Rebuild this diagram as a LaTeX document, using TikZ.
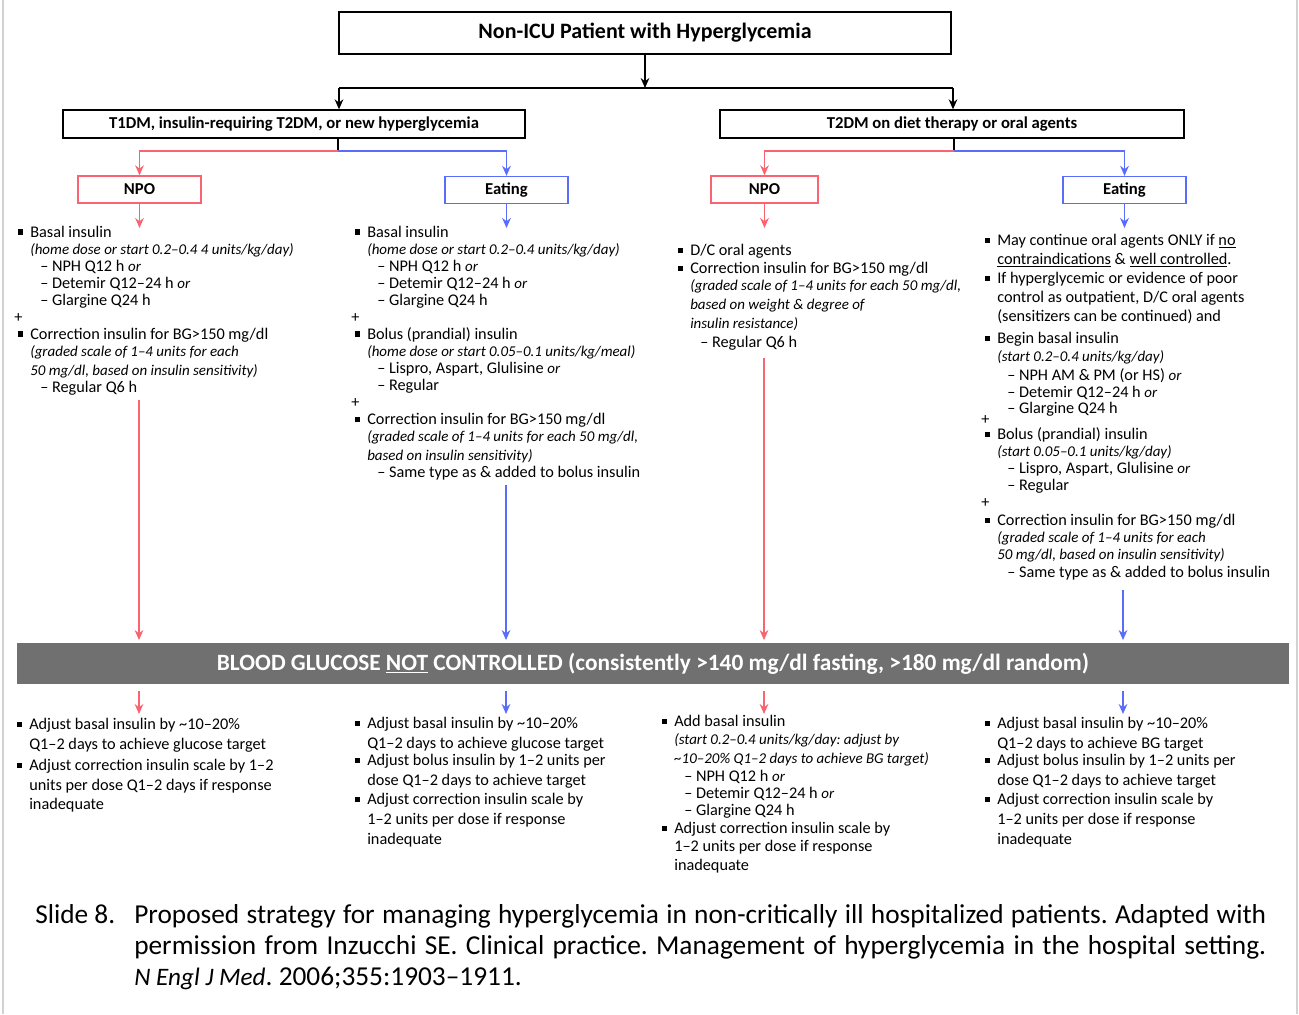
\documentclass[tikz,border=0pt]{standalone}
\usepackage{fontspec}
\setmainfont{Carlito}[ItalicFeatures={Scale=0.92}]
\usetikzlibrary{arrows.meta,positioning}
\frenchspacing

\definecolor{npored}{RGB}{250,100,112}
\definecolor{eatblue}{RGB}{90,108,250}
\definecolor{bargray}{RGB}{112,112,112}

% bullet, text indent and dash line
\newcommand{\bu}{\makebox[12pt][l]{\hspace{2.5pt}\rule[1.8pt]{4pt}{4pt}}}
\newcommand{\ti}{\hspace*{12pt}}
\newcommand{\dl}{\hspace*{19.5pt}--\ }

\begin{document}
\begin{tikzpicture}[x=0.75pt,y=-0.75pt,
	title/.style={rectangle,draw,line width=1pt,inner sep=0pt,minimum width=459pt,minimum height=31.5pt,font=\bfseries\fontsize{16.5}{18}\selectfont},
	cat/.style={rectangle,draw,line width=1pt,inner sep=0pt,minimum height=21pt,font=\bfseries\fontsize{12.5}{14}\selectfont},
	npo/.style={rectangle,draw=npored,line width=1pt,inner sep=0pt,minimum height=20.25pt,font=\bfseries\fontsize{12.5}{14}\selectfont},
	eat/.style={rectangle,draw=eatblue,line width=1pt,inner sep=0pt,minimum height=20.25pt,font=\bfseries\fontsize{12.5}{14}\selectfont},
	blk/.style={anchor=north west,align=left,inner sep=0pt,font=\fontsize{12.2}{12.75}\selectfont},
	blkb/.style={anchor=north west,align=left,inner sep=0pt,font=\fontsize{12.2}{14.8}\selectfont},
	bar/.style={rectangle,fill=bargray,text=white,inner sep=0pt,minimum width=954pt,minimum height=30.75pt,font=\bfseries\fontsize{17.5}{19}\selectfont},
	captxt/.style={anchor=base west,inner sep=0pt,font=\fontsize{20.5}{24}\selectfont},
	conn/.style={line width=1pt},
	paths/.style={->,line width=1pt,>={Stealth[length=7.5pt,width=6.5pt]}},
	redpath/.style={paths,draw=npored,line width=1.2pt},
	bluepath/.style={paths,draw=eatblue,line width=1.2pt}
	]
\useasboundingbox (0,0) rectangle (1299,1014);
\draw [gray!35,line width=1.2pt] (3,0) -- (3,1014);
\draw [gray!35,line width=1.2pt] (1297,0) -- (1297,1014);

\node [title] (title) at (645,33) {Non-ICU Patient with Hyperglycemia};
\node [cat,minimum width=346.5pt] (t1) at (294,124) {T1DM, insulin-requiring T2DM, or new hyperglycemia};
\node [cat,minimum width=348pt] (t2) at (952,124) {T2DM on diet therapy or oral agents};

\node [npo,minimum width=92.25pt] (npo1) at (139.5,189.5) {NPO};
\node [eat,minimum width=92.25pt] (eat1) at (506.5,190) {Eating};
\node [npo,minimum width=80.25pt] (npo2) at (764.5,189.5) {NPO};
\node [eat,minimum width=92.25pt] (eat2) at (1124.5,190) {Eating};

\node [blk] (blk1) at (14,225.5) {\bu Basal insulin\\
\ti\textit{(home dose or start 0.2--0.4 4 units/kg/day)}\\
\dl NPH Q12 h \textit{or}\\
\dl Detemir Q12--24 h \textit{or}\\
\dl Glargine Q24 h\\
+\\
\bu Correction insulin for BG>150 mg/dl\\
\ti\textit{(graded scale of 1--4 units for each}\\[1.5pt]
\ti\textit{50 mg/dl, based on insulin sensitivity)}\\
\dl Regular Q6 h};

\node [blk] (blk2) at (351,225.5) {\bu Basal insulin\\
\ti\textit{(home dose or start 0.2--0.4 units/kg/day)}\\
\dl NPH Q12 h \textit{or}\\
\dl Detemir Q12--24 h \textit{or}\\
\dl Glargine Q24 h\\
+\\
\bu Bolus (prandial) insulin\\
\ti\textit{(home dose or start 0.05--0.1 units/kg/meal)}\\
\dl Lispro, Aspart, Glulisine \textit{or}\\
\dl Regular\\
+\\[0.5pt]
\bu Correction insulin for BG>150 mg/dl\\
\ti\textit{(graded scale of 1--4 units for each 50 mg/dl,}\\[1pt]
\ti\textit{based on insulin sensitivity)}\\
\dl Same type as \& added to bolus insulin};

\node [blk] (blk3) at (674,244) {\bu D/C oral agents\\[0.75pt]
\bu Correction insulin for BG>150 mg/dl\\
\ti\textit{(graded scale of 1--4 units for each 50 mg/dl,}\\[1.5pt]
\ti\textit{based on weight \& degree of}\\[1.5pt]
\ti\textit{insulin resistance)}\\[1.5pt]
\dl Regular Q6 h};

\node [blk] (blk4) at (981,234) {\bu May continue oral agents ONLY if \underline{no}\\[1.5pt]
\ti\underline{contraindications} \& \underline{well controlled}.\\[1.5pt]
\bu If hyperglycemic or evidence of poor\\[1.5pt]
\ti control as outpatient, D/C oral agents\\[1.5pt]
\ti (sensitizers can be continued) and\\[3.5pt]
\bu Begin basal insulin\\[0.75pt]
\ti\textit{(start 0.2--0.4 units/kg/day)}\\[1.5pt]
\dl NPH AM \& PM (or HS) \textit{or}\\
\dl Detemir Q12--24 h \textit{or}\\[-0.75pt]
\dl Glargine Q24 h\\[-4.5pt]
+\\[-1.5pt]
\bu Bolus (prandial) insulin\\
\ti\textit{(start 0.05--0.1 units/kg/day)}\\
\dl Lispro, Aspart, Glulisine \textit{or}\\
\dl Regular\\
+\\[0.75pt]
\bu Correction insulin for BG>150 mg/dl\\
\ti\textit{(graded scale of 1--4 units for each}\\
\ti\textit{50 mg/dl, based on insulin sensitivity)}\\[0.75pt]
\dl Same type as \& added to bolus insulin};

\node [bar] (bar) at (653,663.5) {BLOOD GLUCOSE \underline{NOT} CONTROLLED (consistently >140 mg/dl fasting, >180 mg/dl random)};

\node [blkb] (adj1) at (13,718) {\bu Adjust basal insulin by \textasciitilde10--20\%\\
\ti Q1--2 days to achieve glucose target\\[1pt]
\bu Adjust correction insulin scale by 1--2\\
\ti units per dose Q1--2 days if response\\
\ti inadequate};

\node [blkb] (adj2) at (351,717) {\bu Adjust basal insulin by \textasciitilde10--20\%\\
\ti Q1--2 days to achieve glucose target\\[-2pt]
\bu Adjust bolus insulin by 1--2 units per\\
\ti dose Q1--2 days to achieve target\\
\bu Adjust correction insulin scale by\\
\ti 1--2 units per dose if response\\
\ti inadequate};

\node [blk,font=\fontsize{12.2}{13.7}\selectfont] (adj3) at (658,715) {\bu Add basal insulin\\
\ti\textit{(start 0.2--0.4 units/kg/day: adjust by}\\
\ti\textit{\textasciitilde10--20\% Q1--2 days to achieve BG target)}\\
\dl NPH Q12 h \textit{or}\\[-1pt]
\dl Detemir Q12--24 h \textit{or}\\[-1pt]
\dl Glargine Q24 h\\
\bu Adjust correction insulin scale by\\
\ti 1--2 units per dose if response\\
\ti inadequate};

\node [blkb] (adj4) at (981,717) {\bu Adjust basal insulin by \textasciitilde10--20\%\\
\ti Q1--2 days to achieve BG target\\[-2pt]
\bu Adjust bolus insulin by 1--2 units per\\
\ti dose Q1--2 days to achieve target\\
\bu Adjust correction insulin scale by\\
\ti 1--2 units per dose if response\\
\ti inadequate};

\node [captxt] (cap0) at (35,923) {Slide 8.};
\node [captxt] (cap1) at (134,923) {\makebox[849pt][s]{Proposed strategy for managing hyperglycemia in non-critically ill hospitalized patients. Adapted with}};
\node [captxt] (cap2) at (134,954) {\makebox[849pt][s]{permission from Inzucchi SE. Clinical practice. Management of hyperglycemia in the hospital setting.}};
\node [captxt] (cap3) at (134,985) {\textit{N Engl J Med}. 2006;355:1903--1911.};

% splits
\coordinate (jc) at (645,88);
\coordinate (jl) at (339,88);
\coordinate (jr) at (953,88);
\coordinate (s1) at (338,151);
\coordinate (s2) at (954,151);
\coordinate (lvl) at (0,228);
\coordinate (lvlb) at (0,714);

\draw [paths] (title) -- (jc);
\draw [conn] (jl) -- (jr);
\draw [paths] (jl) -- (jl |- t1.north);
\draw [paths] (jr) -- (jr |- t2.north);

\draw [conn] (t1.south -| s1) -- (s1);
\draw [conn] (t2.south -| s2) -- (s2);
\draw [redpath] (s1) -| (npo1);
\draw [bluepath] (s1) -| (eat1);
\draw [redpath] (s2) -| (npo2);
\draw [bluepath] (s2) -| (eat2);

\draw [redpath] (npo1) -- (npo1 |- lvl);
\draw [bluepath] (eat1) -- (eat1 |- lvl);
\draw [redpath] (npo2) -- (npo2 |- lvl);
\draw [bluepath] (eat2) -- (eat2 |- lvl);

\coordinate (r1) at (139,400);
\coordinate (b1) at (506,485);
\coordinate (r2) at (764,358);
\coordinate (b2) at (1123,590);
\draw [redpath,shorten >=2pt] (r1) -- (r1 |- bar.north);
\draw [bluepath,shorten >=2pt] (b1) -- (b1 |- bar.north);
\draw [redpath,shorten >=2pt] (r2) -- (r2 |- bar.north);
\draw [bluepath,shorten >=2pt] (b2) -- (b2 |- bar.north);

\draw [redpath,shorten <=5pt] (r1 |- bar.south) -- (r1 |- lvlb);
\draw [bluepath,shorten <=5pt] (b1 |- bar.south) -- (b1 |- lvlb);
\draw [redpath,shorten <=5pt] (r2 |- bar.south) -- (r2 |- lvlb);
\draw [bluepath,shorten <=5pt] (b2 |- bar.south) -- (b2 |- lvlb);
\end{tikzpicture}
\end{document}
